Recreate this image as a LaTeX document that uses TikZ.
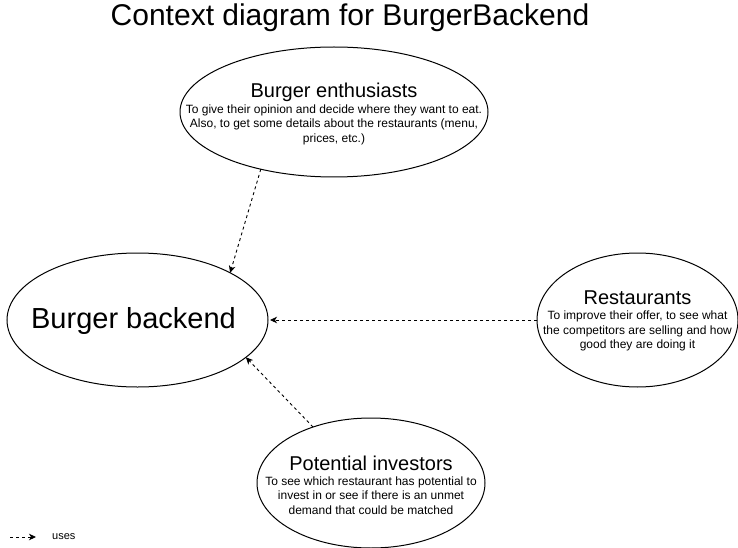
\documentclass[tikz,border=0pt]{standalone}
\usepackage{fontspec}
\setmainfont{Liberation Sans}
\usetikzlibrary{shapes.geometric,arrows.meta}
\begin{document}
\begin{tikzpicture}[x=1pt,y=-1pt,
  oval/.style={draw=black, line width=1pt, ellipse, inner sep=0pt, outer sep=0pt},
  desc/.style={align=center, inner sep=0pt, text=black, font=\fontsize{12}{14.4}\selectfont},
  usesarrow/.style={draw=black, line width=0.9pt, dash pattern=on 3pt off 3pt,
    -{Stealth[length=7pt,width=6.5pt,inset=2pt]}}
]
\useasboundingbox (0,0) rectangle (738,548);
\fill[white] (0,0) rectangle (738,548);

% title
\node[inner sep=0pt, font=\fontsize{30}{36}\selectfont] (title) at (350,18) {Context diagram for BurgerBackend};

% ellipses
\node[oval, minimum width=261pt, minimum height=134pt] (back) at (137.5,320) {};
\node[oval, minimum width=308pt, minimum height=130pt] (ent) at (334,112) {};
\node[oval, minimum width=201pt, minimum height=134pt] (rest) at (637.5,320) {};
\node[oval, minimum width=228pt, minimum height=130pt] (inv) at (371,483) {};

% texts
\node[inner sep=0pt, font=\fontsize{29}{34}\selectfont] (backT) at ([xshift=-4pt,yshift=-1pt]back.center) {Burger backend};
\node[desc] (entT) at ([yshift=-2pt]ent.center) {{\fontsize{20}{24}\selectfont Burger enthusiasts}\\[1pt]
  To give their opinion and decide where they want to eat.\\
  Also, to get some details about the restaurants (menu,\\
  prices, etc.)};
\node[desc] (restT) at ([yshift=-1pt]rest.center) {{\fontsize{20}{24}\selectfont Restaurants}\\[1pt]
  To improve their offer, to see what\\
  the competitors are selling and how\\
  good they are doing it};
\node[desc] (invT) at ([yshift=-2pt]inv.center) {{\fontsize{20}{24}\selectfont Potential investors}\\[1pt]
  To see which restaurant has potential to\\
  invest in or see if there is an unmet\\
  demand that could be matched};

% connectors
\draw[usesarrow] (ent.218) -- (back.27);
\draw[usesarrow] (rest.180) -- ([xshift=2pt]back.0);
\draw[usesarrow] (inv.136) -- (back.-19);

% legend
\coordinate (l1) at (10,537);
\coordinate (l2) at (36,537);
\draw[usesarrow] (l1) -- (l2);
\node[anchor=west, inner sep=0pt, font=\fontsize{11}{13}\selectfont] (legT) at (52,537) {uses};
\end{tikzpicture}
\end{document}
